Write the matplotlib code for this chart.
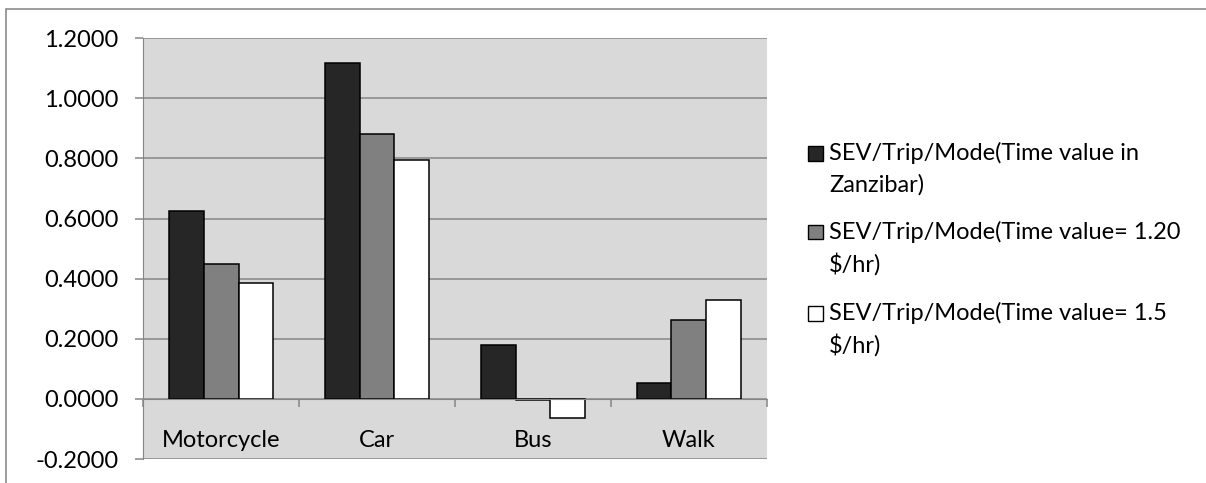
import matplotlib.pyplot as plt
from matplotlib.patches import Rectangle
import numpy as np

plt.rcParams['font.family'] = ['Lato', 'DejaVu Sans']

categories = ["Motorcycle", "Car", "Bus", "Walk"]
series_names = ["SEV/Trip/Mode(Time value in\nZanzibar)",
                "SEV/Trip/Mode(Time value= 1.20\n$/hr)",
                "SEV/Trip/Mode(Time value= 1.5\n$/hr)"]
zanzibar = [0.624, 1.119, 0.181, 0.052]
tv_120 = [0.448, 0.881, -0.003, 0.261]
tv_150 = [0.385, 0.794, -0.065, 0.328]
yticks = [-0.2, 0.0, 0.2, 0.4, 0.6, 0.8, 1.0, 1.2]

colors = ["#262626", "#808080", "#ffffff"]
grid_col = "#868686"
fs = 17

W, H = 1206, 483
fig = plt.figure(figsize=(W / 100, H / 100), dpi=100)
ax = fig.add_axes([143.3 / W, 1 - 459 / H, (766.7 - 143.3) / W, (459 - 38.3) / H])
ax.set_facecolor("#d9d9d9")

x = np.arange(len(categories))
w = 0.223
for k, vals in enumerate([zanzibar, tv_120, tv_150]):
    ax.bar(x + (k - 1) * w, vals, w, color=colors[k], edgecolor="black",
           linewidth=1.1, zorder=3)

ax.set_xlim(-0.5, len(categories) - 0.5)
ax.set_ylim(-0.2, 1.2)
ax.set_yticks(yticks)
ax.set_yticklabels(["%.4f" % v for v in yticks], fontsize=fs)
ax.yaxis.grid(True, color=grid_col, linewidth=1.1)
ax.set_axisbelow(True)

for s in ["top", "right"]:
    ax.spines[s].set_visible(False)
ax.spines["left"].set_color(grid_col)
ax.spines["bottom"].set_color(grid_col)
ax.spines["bottom"].set_position(("data", 0))
ax.spines["bottom"].set_zorder(4)
ax.tick_params(axis="y", length=6, color=grid_col, pad=12, width=1.1)
ax.set_xticks(np.arange(-0.5, len(categories), 1.0))
ax.set_xticklabels([])
ax.tick_params(axis="x", length=6, color=grid_col, direction="out", width=1.1)

for i, c in enumerate(categories):
    ax.text(i, -0.139, c, ha="center", va="center", fontsize=fs)

# legend drawn by hand so the marker sits on the first line
leg_y = [153, 232, 313]
for k, name in enumerate(series_names):
    yc = 1 - leg_y[k] / H
    fig.patches.append(Rectangle((808 / W, yc - 7.5 / H), 15 / W, 15 / H,
                                 facecolor=colors[k], edgecolor="black",
                                 linewidth=1.0, transform=fig.transFigure))
    for j, ln in enumerate(name.split("\n")):
        fig.text(829 / W, 1 - (leg_y[k] + 32 * j) / H, ln, fontsize=fs,
                 va="center", ha="left")

# outer chart border
fig.patches.append(Rectangle((6 / W, -0.1), 1.2, 1.1 - 9 / H, fill=False,
                             edgecolor="#8c8c8c", linewidth=1.2,
                             transform=fig.transFigure))

fig.savefig("out.png", dpi=100)
